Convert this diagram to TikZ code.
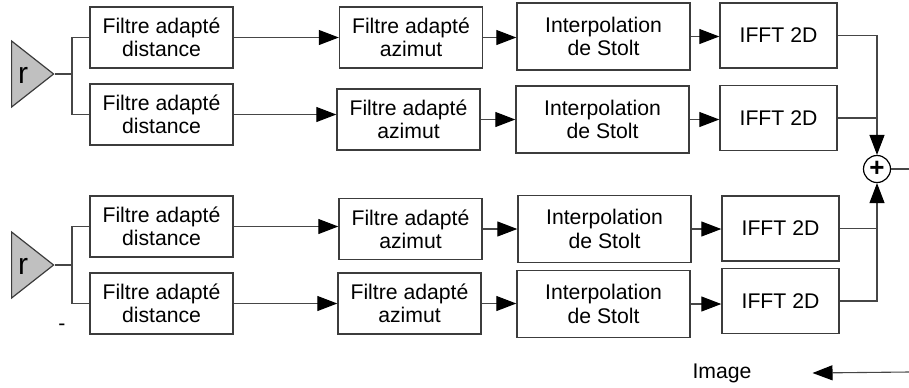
\documentclass[tikz,border=0pt]{standalone}
\usepackage{fontspec}
\setmainfont{Liberation Sans}
\usetikzlibrary{positioning,arrows.meta,shapes.geometric,calc}
\definecolor{boxrule}{RGB}{60,60,60}
\definecolor{wirecol}{RGB}{70,70,70}
\definecolor{ampfill}{RGB}{192,192,192}
\tikzset{
  blockbase/.style={rectangle,draw=boxrule,line width=0.7pt,align=center,inner sep=0pt,font=\fontsize{10.6}{11.6}\selectfont},
  filtbox/.style={blockbase,minimum width=71.5pt,minimum height=30.5pt},
  interpbox/.style={blockbase,minimum width=86.5pt,minimum height=33.5pt},
  fftbox/.style={blockbase,minimum width=58.5pt,minimum height=32.5pt},
  ampli/.style={isosceles triangle,isosceles triangle stretches,draw=boxrule,fill=ampfill,line width=0.6pt,minimum width=33pt,minimum height=21pt,inner sep=0pt},
  sumnode/.style={circle,draw=black,line width=0.6pt,minimum size=13.5pt,inner sep=0pt,font=\fontsize{13}{13}\selectfont\bfseries},
  edge/.style={-{Triangle[length=10pt,width=7.5pt,black]},draw=wirecol,line width=0.55pt},
  wire/.style={draw=wirecol,line width=0.55pt}
}
\begin{document}
\begin{tikzpicture}[x=0.5pt,y=-0.5pt]
  \useasboundingbox (0,0) rectangle (909,387);
  % upper group
  \node[ampli,anchor=lower side,label={[anchor=center,xshift=6pt,yshift=-0.75pt,font=\fontsize{15}{15}\selectfont]west:r}] (amp1) at (11,74) {};
  \node[filtbox] (d1) at (161.5,37.5) {Filtre adapté\\distance};
  \node[filtbox] (a1) at (411,37.5) {Filtre adapté\\azimut};
  \node[interpbox] (i1) at (603.5,36.5) {Interpolation\\de Stolt};
  \node[fftbox] (f1) at (778.5,35.5) {IFFT 2D};
  \node[filtbox] (d2) at (161.5,114.5) {Filtre adapté\\distance};
  \node[filtbox] (a2) at (408.5,119.5) {Filtre adapté\\azimut};
  \node[interpbox] (i2) at (602.5,119.5) {Interpolation\\de Stolt};
  \node[fftbox] (f2) at (778.5,118) {IFFT 2D};
  % lower group
  \node[ampli,anchor=lower side,label={[anchor=center,xshift=6pt,yshift=-0.75pt,font=\fontsize{15}{15}\selectfont]west:r}] (amp2) at (11,265) {};
  \node[filtbox] (d3) at (161.5,226.5) {Filtre adapté\\distance};
  \node[filtbox] (a3) at (410.5,229) {Filtre adapté\\azimut};
  \node[interpbox] (i3) at (604.5,229) {Interpolation\\de Stolt};
  \node[fftbox] (f3) at (780.5,228.5) {IFFT 2D};
  \node[filtbox] (d4) at (161.5,303.5) {Filtre adapté\\distance};
  \node[filtbox] (a4) at (409.5,303.5) {Filtre adapté\\azimut};
  \node[interpbox] (i4) at (603.5,304) {Interpolation\\de Stolt};
  \node[fftbox] (f4) at (780.5,301) {IFFT 2D};
  \node[sumnode] (sum) at (877,169) {+};
  \node[font=\fontsize{10.6}{11.6}\selectfont] (img) at (722,373) {Image};
  \node[font=\fontsize{10.6}{11.6}\selectfont] (dash) at (62,327) {-};
  \coordinate (br1) at (72,74);
  \coordinate (br2) at (72,265);
  \coordinate (out) at (909,169);
  \coordinate (imgsrc) at (909,372);
  % branches
  \draw[wire] (amp1.apex) -- (br1);
  \draw[wire] (d1.west) -| (br1) |- (d2.west);
  \draw[wire] (amp2.apex) -- (br2);
  \draw[wire] (d3.west) -| (br2) |- (d4.west);
  % chains
  \draw[edge] (d1.east) -- (d1.east -| a1.west);
  \draw[edge] (a1.east) -- (a1.east -| i1.west);
  \draw[edge] (i1.east) -- (i1.east -| f1.west);
  \draw[edge] (d2.east) -- (d2.east -| a2.west);
  \draw[edge] (a2.east) -- (a2.east -| i2.west);
  \draw[edge] (i2.east) -- (i2.east -| f2.west);
  \draw[edge] (d3.east) -- (d3.east -| a3.west);
  \draw[edge] (a3.east) -- (a3.east -| i3.west);
  \draw[edge] (i3.east) -- (i3.east -| f3.west);
  \draw[edge] (d4.east) -- (d4.east -| a4.west);
  \draw[edge] (a4.east) -- (a4.east -| i4.west);
  \draw[edge] (i4.east) -- (i4.east -| f4.west);
  % summation
  \draw[edge] (f1.east) -| (sum.north);
  \draw[wire] (f2.east) -- (f2.east -| sum.north);
  \draw[edge] (f4.east) -| (sum.south);
  \draw[wire] (f3.east) -- (f3.east -| sum.south);
  \draw[wire] (sum.east) -- (out);
  \draw[edge] (imgsrc) -- ([xshift=27pt]img.east);
\end{tikzpicture}
\end{document}
